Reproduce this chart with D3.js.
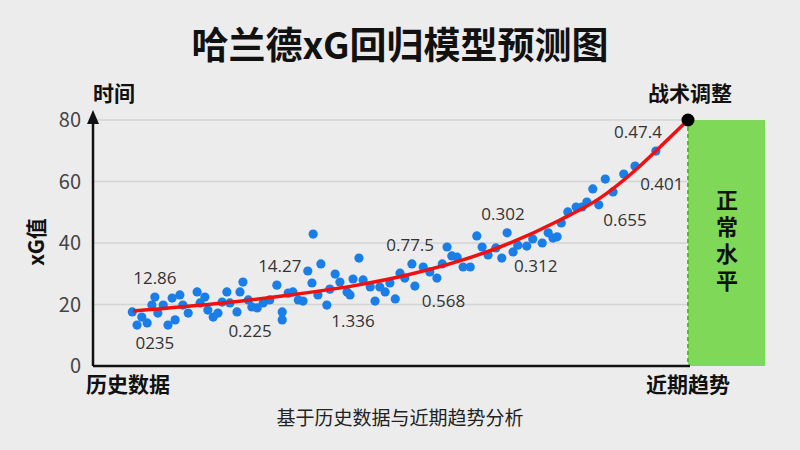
<!DOCTYPE html><html><head><meta charset="utf-8"><script src="https://cdn.jsdelivr.net/npm/d3@7"></script>
<style>body{margin:0;background:#ececec}</style></head><body><svg width="800" height="450"></svg><script>
const yTicks=[0,20,40,60,80];
const scatterX=[6.6,7.4,8.2,9.1,9.9,10.4,10.9,11.8,12.6,13.3,13.8,14.6,15.1,16.0,17.5,18.0,18.8,19.3,20.2,21.0,21.7,22.5,23.0,24.2,24.7,25.2,26.1,26.7,27.6,28.6,29.7,30.9,31.8,31.8,32.8,33.6,34.5,35.3,36.1,36.8,37.0,37.8,38.3,39.3,39.8,40.7,41.5,42.7,43.2,43.7,44.7,45.4,46.6,47.4,48.2,49.1,49.9,50.8,51.6,52.4,53.6,54.1,55.5,56.6,57.8,58.7,59.5,60.3,61.2,62.2,63.4,64.5,65.4,66.4,67.7,68.7,69.6,70.6,71.4,72.9,73.9,75.5,76.5,77.3,78.0,78.7,79.8,81.2,82.2,83.0,84.0,85.0,86.1,87.4,89.2,91.1,94.6];
const scatterY=[17.6,13.3,15.9,14.0,19.8,22.4,17.2,19.8,13.3,22.1,15.0,23.1,19.8,17.2,24.1,20.5,22.4,18.2,15.9,17.2,20.8,24.1,20.5,17.6,24.1,27.3,21.5,19.2,18.9,20.5,21.5,26.3,17.6,15.0,23.7,24.1,21.5,21.1,30.9,27.0,42.9,23.1,33.2,19.8,25.0,29.9,27.3,24.1,23.1,28.3,35.1,28.0,25.7,21.1,25.7,24.1,27.0,21.8,30.2,28.6,33.2,26.0,32.2,30.6,28.6,33.2,38.7,35.8,35.4,32.2,32.2,42.3,38.7,36.1,38.4,35.1,43.3,37.1,39.3,39.0,41.3,40.0,43.3,41.6,42.0,46.5,50.1,51.7,51.7,53.3,57.6,52.4,60.8,56.6,62.4,65.0,69.9];
const curveX=[6.7,21.8,33.1,44.4,52.8,68.4,78.5,85.2,90.8,95.3,100];
const curveY=[17.9,20.5,23.1,26.3,29.6,38.7,47.5,54.6,63.1,71.2,80];
const labelText=["12.86","0235","0.225","14.27","1.336","0.77.5","0.568","0.302","0.312","0.655","0.401","0.47.4"];
const labelX=[10.4,10.4,26.4,31.4,43.7,53.3,58.9,68.9,74.4,89.4,95.6,91.6];
const labelY=[28.5,7.5,11.3,32.4,14.5,39.3,21.1,49.3,32.4,47.6,59.3,76.0];
const svg=d3.select("svg");
const x=d3.scaleLinear().domain([0,100]).range([93,688]);
const y=d3.scaleLinear().domain([0,80]).range([366,120]);
const F="'Noto Sans CJK SC','Noto Sans',sans-serif";
svg.append("rect").attr("width",800).attr("height",450).attr("fill","#ececec");
svg.append("g").selectAll("line").data(yTicks.filter(d=>d>0)).join("line")
 .attr("x1",x(0)).attr("x2",x(100)).attr("y1",d=>y(d)).attr("y2",d=>y(d)).attr("stroke","#d4d4d4").attr("stroke-width",1.5);
svg.append("g").selectAll("text").data(yTicks).join("text").attr("x",81).attr("y",d=>y(d)+7)
 .attr("text-anchor","end").attr("font-size",20).attr("font-family",F).attr("fill","#444").text(d=>d);
svg.append("rect").attr("x",x(100)).attr("y",y(80)).attr("width",765-x(100)).attr("height",y(0)-y(80)).attr("fill","#7fd857");
svg.append("line").attr("x1",x(100)).attr("x2",x(100)).attr("y1",y(80)).attr("y2",y(0)).attr("stroke","#4cbf2a").attr("stroke-width",2).attr("stroke-dasharray","4,3");
const vt=svg.append("text").attr("font-size",22).attr("font-weight","bold").attr("font-family",F).attr("fill","#111").attr("text-anchor","middle");
["正","常","水","平"].forEach((c,i)=>vt.append("tspan").attr("x",727).attr("y",208+i*27).text(c));
svg.append("line").attr("x1",x(0)).attr("x2",x(100)+2).attr("y1",y(0)).attr("y2",y(0)).attr("stroke","#111").attr("stroke-width",2.5);
svg.append("line").attr("x1",x(0)).attr("x2",x(0)).attr("y1",y(0)).attr("y2",y(80)).attr("stroke","#111").attr("stroke-width",2.5);
svg.append("path").attr("d",`M${x(0)-6},${y(80)+4}L${x(0)},${y(80)-10}L${x(0)+6},${y(80)+4}Z`).attr("fill","#111");
svg.append("g").selectAll("circle").data(scatterX).join("circle").attr("cx",d=>x(d)).attr("cy",(d,i)=>y(scatterY[i])).attr("r",4.6).attr("fill","#1a7ee8");
const line=d3.line().x(d=>x(d[0])).y(d=>y(d[1])).curve(d3.curveMonotoneX);
svg.append("path").attr("d",line(curveX.map((d,i)=>[d,curveY[i]]))).attr("fill","none").attr("stroke","#f01010").attr("stroke-width",3.5);
svg.append("circle").attr("cx",x(100)).attr("cy",y(80)).attr("r",6.5).attr("fill","#000");
svg.append("g").selectAll("text").data(labelText).join("text").attr("x",(d,i)=>x(labelX[i])).attr("y",(d,i)=>y(labelY[i])+6)
 .attr("text-anchor","middle").attr("font-size",17).attr("font-family","'Open Sans',sans-serif").attr("fill","#333").text(d=>d);
function t(s,xx,yy,sz,w,anchor){return svg.append("text").attr("x",xx).attr("y",yy).attr("font-size",sz).attr("font-weight",w).attr("font-family",F).attr("fill","#111").attr("text-anchor",anchor||"middle").text(s);}
t("哈兰德xG回归模型预测图",400,59,37,"bold");
t("时间",114,101,21,"bold");
t("战术调整",690,101,21,"bold");
t("历史数据",128,392,21,"bold");
t("近期趋势",688,392,21,"bold");
t("基于历史数据与近期趋势分析",400,425,19,"normal").attr("fill","#222");
t("xG值",0,0,21,"bold").attr("transform","translate(44,242) rotate(-90)");
</script></body></html>
